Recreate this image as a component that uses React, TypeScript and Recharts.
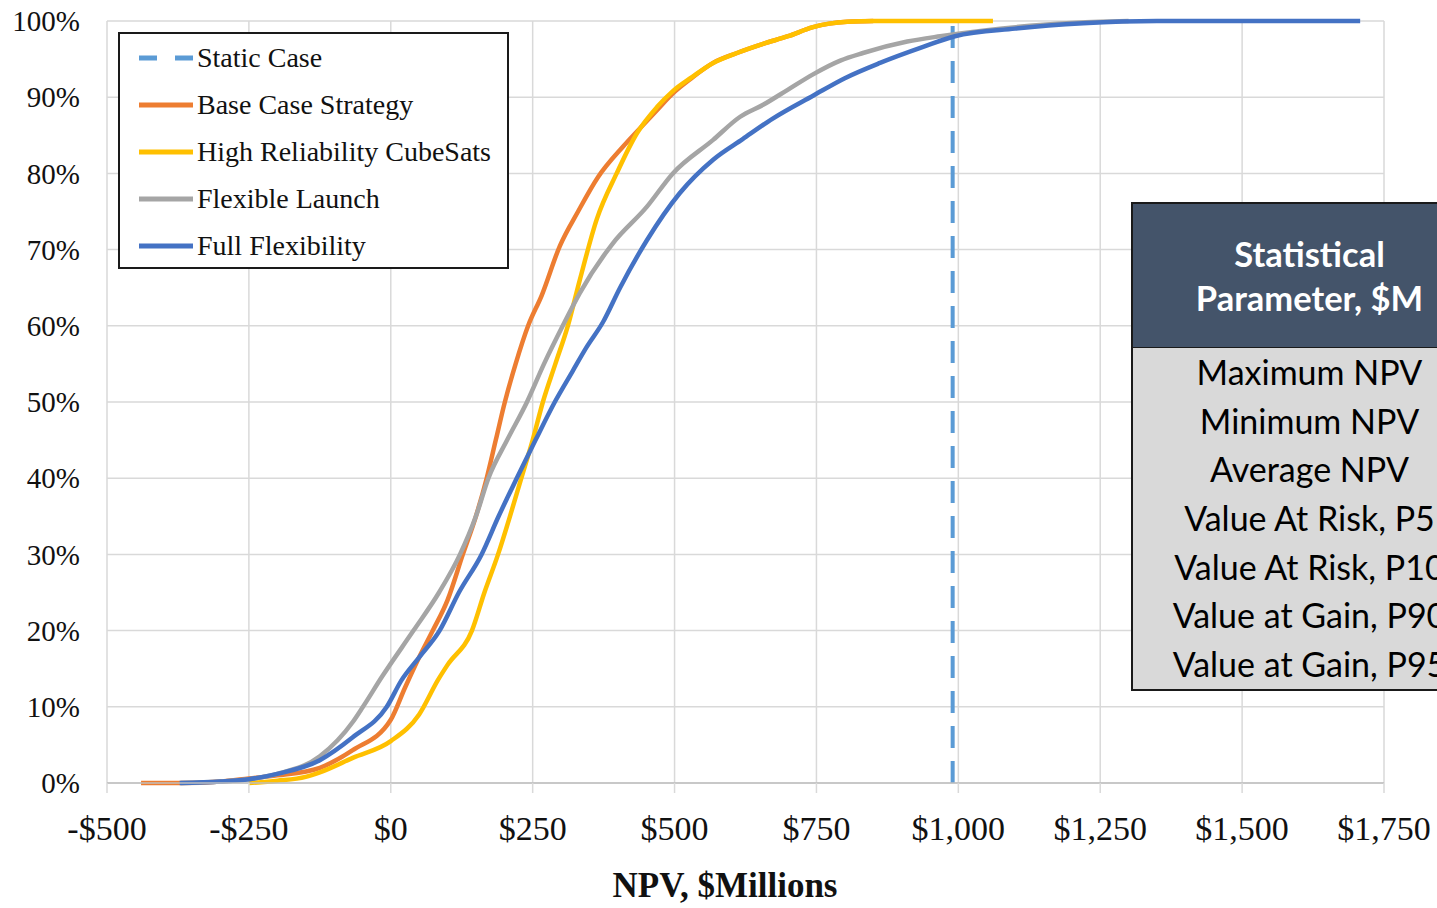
import { LineChart, Line, XAxis, YAxis, CartesianGrid, Legend } from 'recharts';

// NPV ($M) and cumulative probability (%)
const baseNpv = [-440, -370, -300, -250, -200, -125, -67, 0, 25, 50, 74, 100, 127, 150, 169, 185, 201, 220, 242, 266, 298, 330, 365, 409, 440, 469, 497, 530, 568, 610, 656, 700, 744, 804, 850];
const baseCdf = [0, 0, 0.2, 0.6, 1, 2, 4.3, 8.3, 12.5, 16.5, 20, 24, 30, 35, 40, 45, 50, 55, 60, 64, 70.5, 75, 79.5, 83.5, 86, 88.3, 90.5, 92.5, 94.5, 95.8, 97, 98, 99.2, 99.9, 100];

const highRelNpv = [-250, -200, -150, -125, -67, 0, 50, 83, 100, 143, 165, 189, 210, 230, 250, 268, 290, 312, 333, 363, 398, 434, 469, 497, 530, 568, 610, 656, 700, 744, 804, 850, 1061];
const highRelCdf = [0, 0.3, 0.8, 1.4, 3.3, 5.5, 9, 13.5, 15.5, 20, 25, 30, 35, 40, 45, 50, 55, 60, 66, 74, 80, 85.3, 88.7, 90.8, 92.6, 94.5, 95.8, 97, 98, 99.2, 99.9, 100, 100];

const flexLaunchNpv = [-370, -300, -250, -200, -125, -67, -49, -15, 40, 85, 122, 150, 172, 205, 240, 270, 303, 333, 391, 451, 497, 568, 615, 656, 700, 744, 792, 832, 910, 968, 1050, 1150, 1250, 1300];
const flexLaunchCdf = [0, 0.2, 0.5, 1.2, 3.5, 8, 10, 14, 20, 25, 30, 35, 40, 45, 50, 55, 60, 64.3, 70.8, 75.6, 80, 84.4, 87.4, 89, 91, 93, 94.8, 95.8, 97.3, 98, 98.8, 99.5, 99.9, 100];

const fullFlexNpv = [-372, -300, -250, -200, -125, -67, -7, 19, 50, 86, 120, 160, 190, 222, 255, 289, 320, 345, 374, 404, 451, 509, 568, 620, 673, 744, 800, 862, 938, 994, 1100, 1220, 1350, 1708];
const fullFlexCdf = [0, 0.2, 0.5, 1.2, 3, 6, 10, 13.5, 16.5, 20, 25, 30, 35, 40, 45, 50, 54, 57.2, 60.5, 65, 71.2, 77.4, 81.8, 84.5, 87.2, 90.2, 92.5, 94.5, 96.6, 98, 99, 99.7, 100, 100];

const staticNpv = [990, 990];
const staticCdf = [0, 100];

const xTicks = [-500, -250, 0, 250, 500, 750, 1000, 1250, 1500, 1750];
const yTicks = [0, 10, 20, 30, 40, 50, 60, 70, 80, 90, 100];

const tableHeader = ['Statistical', 'Parameter, $M'];
const tableRows = [
  'Maximum NPV',
  'Minimum NPV',
  'Average NPV',
  'Value At Risk, P5',
  'Value At Risk, P10',
  'Value at Gain, P90',
  'Value at Gain, P95',
];

const zip = (xs: number[], ys: number[]) => xs.map((x, i) => ({ npv: x, cdf: ys[i] }));

const SERIES = [
  { name: 'Static Case', color: '#5b9bd5', dashed: true, data: zip(staticNpv, staticCdf) },
  { name: 'Base Case Strategy', color: '#ed7d31', dashed: false, data: zip(baseNpv, baseCdf) },
  { name: 'High Reliability CubeSats', color: '#ffc000', dashed: false, data: zip(highRelNpv, highRelCdf) },
  { name: 'Flexible Launch', color: '#a5a5a5', dashed: false, data: zip(flexLaunchNpv, flexLaunchCdf) },
  { name: 'Full Flexibility', color: '#4472c4', dashed: false, data: zip(fullFlexNpv, fullFlexCdf) },
];

const SERIF = '"Liberation Serif", "Times New Roman", serif';

const fmtMoney = (v: number) => (v < 0 ? `-$${Math.abs(v)}` : `$${v.toLocaleString('en-US')}`);

const LegendBox = () => (
  <div
    style={{
      width: 391,
      height: 237,
      boxSizing: 'border-box',
      border: '2px solid #1a1a1a',
      background: '#fff',
      paddingTop: 0,
    }}
  >
    {SERIES.map((s) => (
      <div key={s.name} style={{ height: 47, display: 'flex', alignItems: 'center' }}>
        <svg width={78} height={10} style={{ marginLeft: 17 }}>
          {s.dashed ? (
            <>
              <line x1={2} x2={20} y1={5} y2={5} stroke={s.color} strokeWidth={5} />
              <line x1={38} x2={56} y1={5} y2={5} stroke={s.color} strokeWidth={5} />
            </>
          ) : (
            <line x1={2} x2={56} y1={5} y2={5} stroke={s.color} strokeWidth={5} />
          )}
        </svg>
        <span style={{ fontFamily: SERIF, fontSize: 28, color: '#111', marginLeft: -18, whiteSpace: 'nowrap' }}>
          {s.name}
        </span>
      </div>
    ))}
  </div>
);

const AxisTitle = ({ viewBox }: any) => {
  if (!viewBox) return null;
  return (
    <text
      x={725}
      y={viewBox.y + viewBox.height - 11}
      textAnchor="middle"
      fontFamily={SERIF}
      fontWeight="bold"
      fontSize={35}
      fill="#111"
    >
      NPV, $Millions
    </text>
  );
};

export default function App() {
  return (
    <div
      style={{
        position: 'fixed',
        left: 0,
        top: 0,
        width: 1437,
        height: 908,
        overflow: 'hidden',
        background: '#fff',
      }}
    >
      <LineChart width={1437} height={908} margin={{ top: 21, right: 53, left: 0, bottom: 0 }}>
        <CartesianGrid stroke="#d9d9d9" strokeWidth={1.5} />
        <XAxis
          type="number"
          dataKey="npv"
          domain={[-500, 1750]}
          ticks={xTicks}
          tickFormatter={fmtMoney}
          height={125}
          tickSize={10}
          tickMargin={23}
          tickLine={{ stroke: '#d9d9d9', strokeWidth: 1.5 }}
          axisLine={{ stroke: '#bfbfbf', strokeWidth: 1.5 }}
          tick={{ fontFamily: SERIF, fontSize: 34, fill: '#111' }}
          interval={0}
          allowDataOverflow
          label={<AxisTitle />}
        />
        <YAxis
          type="number"
          dataKey="cdf"
          domain={[0, 100]}
          ticks={yTicks}
          tickFormatter={(v: number) => `${v}%`}
          width={107}
          tickSize={0}
          tickMargin={27}
          axisLine={false}
          tickLine={false}
          tick={{ fontFamily: SERIF, fontSize: 29, fill: '#111' }}
          interval={0}
        />
        <Legend
          layout="vertical"
          align="center"
          verticalAlign="middle"
          wrapperStyle={{ left: 118, top: 32, width: 391, height: 237 }}
          content={() => <LegendBox />}
        />
        {SERIES.map((s) => (
          <Line
            key={s.name}
            data={s.data}
            dataKey="cdf"
            name={s.name}
            type={s.dashed ? 'linear' : 'monotone'}
            stroke={s.color}
            strokeWidth={s.dashed ? 4 : 4.5}
            strokeDasharray={s.dashed ? '22 13' : undefined}
            dot={false}
            activeDot={false}
            isAnimationActive={false}
          />
        ))}
      </LineChart>

      <div
        style={{
          position: 'absolute',
          left: 1131,
          top: 202,
          width: 356,
          border: '2px solid #1a1a1a',
          fontFamily: 'Lato, "Open Sans", sans-serif',
          textAlign: 'center',
        }}
      >
        <div
          style={{
            background: '#44546a',
            color: '#fff',
            fontWeight: 'bold',
            fontSize: 34.5,
            height: 143,
            display: 'flex',
            flexDirection: 'column',
            justifyContent: 'center',
            lineHeight: '44px',
            borderBottom: '1.5px solid #1a1a1a',
            paddingRight: 3,
          }}
        >
          {tableHeader.map((t) => (
            <div key={t}>{t}</div>
          ))}
        </div>
        <div style={{ background: '#d9d9d9', color: '#000', fontSize: 34, paddingRight: 3 }}>
          {tableRows.map((r) => (
            <div key={r} style={{ height: 48.7, lineHeight: '48.7px', whiteSpace: 'nowrap' }}>
              {r}
            </div>
          ))}
        </div>
      </div>
    </div>
  );
}
